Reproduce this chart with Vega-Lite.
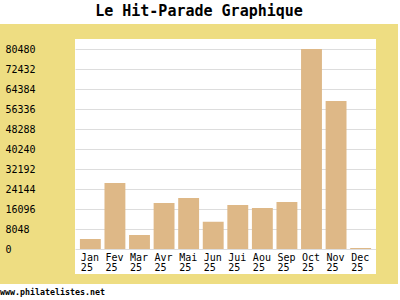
{
  "$schema": "https://vega.github.io/schema/vega-lite/v6.json",
  "background": "white",
  "padding": {"top": 4, "left": 0, "right": 0, "bottom": 0},
  "title": {"text": "Le Hit-Parade Graphique", "font": "DejaVu Sans Mono", "fontSize": 15, "fontWeight": "bold", "color": "black", "anchor": "middle", "offset": 5},
  "config": {"view": {"stroke": null}},
  "spacing": 0,
  "bounds": "flush",
  "columns": 3,
  "concat": [
    {"width": 75, "height": 15, "view": {"fill": "#EEDD82", "stroke": null}, "data": {"values": [{}]}, "mark": {"type": "rect", "color": "#EEDD82"}, "encoding": {}},
    {"width": 301, "height": 15, "view": {"fill": "#EEDD82", "stroke": null}, "data": {"values": [{}]}, "mark": {"type": "rect", "color": "#EEDD82"}, "encoding": {}},
    {"width": 22, "height": 15, "view": {"fill": "#EEDD82", "stroke": null}, "data": {"values": [{}]}, "mark": {"type": "rect", "color": "#EEDD82"}, "encoding": {}},
    {"width": 75, "height": 235, "view": {"fill": "#EEDD82", "stroke": null}, "data": {"values": [{}]}, "mark": {"type": "rect", "color": "#EEDD82"}, "encoding": {}},
    {
      "width": 301, "height": 210,
      "data": {"values": [
        {"mois": "Jan 25", "visites": 4024},
        {"mois": "Fev 25", "visites": 26558},
        {"mois": "Mar 25", "visites": 5634},
        {"mois": "Avr 25", "visites": 18510},
        {"mois": "Mai 25", "visites": 20522},
        {"mois": "Jun 25", "visites": 10986},
        {"mois": "Jui 25", "visites": 17706},
        {"mois": "Aou 25", "visites": 16498},
        {"mois": "Sep 25", "visites": 18913},
        {"mois": "Oct 25", "visites": 80480},
        {"mois": "Nov 25", "visites": 59555},
        {"mois": "Dec 25", "visites": 400}
      ]},
      "mark": {"type": "bar", "color": "#DEB887"},
      "encoding": {
        "x": {
          "field": "mois", "type": "nominal", "sort": null,
          "scale": {"paddingInner": 0.15, "paddingOuter": 0.2},
          "axis": {"title": null, "labelExpr": "split(datum.label, ' ')", "labelAlign": "left", "labelAngle": 0, "labelOffset": -9.5, "ticks": false, "tickSize": 0, "domain": false, "grid": false, "labelPadding": 3, "labelBaseline": "top", "labelLineHeight": 10, "labelFont": "DejaVu Sans Mono", "labelFontSize": 10, "labelColor": "black", "labelOverlap": false, "labelBound": false}
        },
        "y": {
          "field": "visites", "type": "quantitative",
          "scale": {"domain": [0, 84504], "nice": false, "zero": true},
          "axis": {"title": null, "format": "d", "values": [0, 8048, 16096, 24144, 32192, 40240, 48288, 56336, 64384, 72432, 80480], "labelAlign": "left", "labelBaseline": "middle", "labelPadding": 70, "ticks": false, "tickSize": 0, "domain": false, "grid": true, "gridColor": "#DDDDDD", "gridWidth": 1, "labelFont": "DejaVu Sans Mono", "labelFontSize": 10, "labelColor": "black", "labelOverlap": false, "labelBound": false}
        }
      }
    },
    {"width": 22, "height": 235, "view": {"fill": "#EEDD82", "stroke": null}, "data": {"values": [{}]}, "mark": {"type": "rect", "color": "#EEDD82"}, "encoding": {}},
    {
      "width": 75, "height": 10, "view": {"fill": "#EEDD82", "stroke": null},
      "title": {"text": "www.philatelistes.net", "orient": "bottom", "anchor": "start", "font": "DejaVu Sans Mono", "fontSize": 8.3, "color": "black", "offset": 4},
      "data": {"values": [{}]}, "mark": {"type": "rect", "color": "#EEDD82"}, "encoding": {}
    },
    {"width": 301, "height": 10, "view": {"fill": "#EEDD82", "stroke": null}, "data": {"values": [{}]}, "mark": {"type": "rect", "color": "#EEDD82"}, "encoding": {}},
    {"width": 22, "height": 10, "view": {"fill": "#EEDD82", "stroke": null}, "data": {"values": [{}]}, "mark": {"type": "rect", "color": "#EEDD82"}, "encoding": {}}
  ]
}
